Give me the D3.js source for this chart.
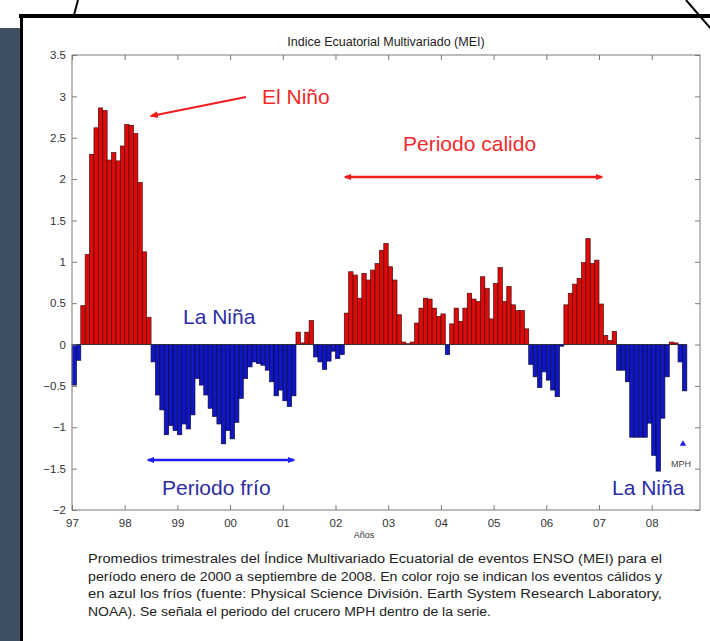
<!DOCTYPE html>
<html>
<head>
<meta charset="utf-8">
<script src="https://cdn.jsdelivr.net/npm/d3@7"></script>
<style>
  body { margin: 0; background: #fff; }
  svg { display: block; font-family: 'Liberation Sans', Arial, sans-serif; }
</style>
</head>
<body>
<svg id="chart"></svg>
<script>
// Monthly MEI values, Jan 1997 -> Aug 2008
const mei1997 = [-0.49, -0.19, 0.47, 1.09, 2.30, 2.62, 2.86, 2.83, 2.23, 2.32, 2.22, 2.40];
const mei1998 = [2.66, 2.65, 2.55, 1.96, 1.12, 0.33, -0.21, -0.61, -0.79, -1.09, -0.98, -1.04];
const mei1999 = [-1.09, -0.96, -1.02, -0.85, -0.41, -0.49, -0.61, -0.77, -0.87, -0.96, -1.20, -1.04];
const mei2000 = [-1.14, -0.94, -0.65, -0.41, -0.27, -0.21, -0.23, -0.25, -0.31, -0.45, -0.62, -0.55];
const mei2001 = [-0.68, -0.75, -0.62, 0.15, 0.02, 0.15, 0.29, -0.15, -0.21, -0.30, -0.20, -0.08];
const mei2002 = [-0.17, -0.12, 0.38, 0.88, 0.84, 0.56, 0.86, 0.78, 0.90, 0.98, 1.14, 1.22];
const mei2003 = [0.94, 0.78, 0.36, 0.03, 0.01, 0.03, 0.26, 0.44, 0.56, 0.55, 0.44, 0.34];
const mei2004 = [0.37, -0.12, 0.25, 0.44, 0.28, 0.44, 0.62, 0.55, 0.52, 0.82, 0.68, 0.31];
const mei2005 = [0.74, 0.93, 0.52, 0.70, 0.48, 0.41, 0.41, 0.19, -0.24, -0.39, -0.52, -0.33];
const mei2006 = [-0.43, -0.55, -0.63, -0.02, 0.48, 0.62, 0.73, 0.80, 0.99, 1.28, 0.98, 1.02];
const mei2007 = [0.49, 0.11, 0.05, 0.16, -0.31, -0.31, -0.45, -1.12, -1.12, -1.12, -1.12, -0.95];
const mei2008 = [-1.34, -1.53, -0.89, -0.39, 0.03, 0.02, -0.21, -0.56];

const yearTicks = [1997, 1998, 1999, 2000, 2001, 2002, 2003, 2004, 2005, 2006, 2007, 2008];
const yearLabels = ['97', '98', '99', '00', '01', '02', '03', '04', '05', '06', '07', '08'];
const yTicks = [-2, -1.5, -1, -0.5, 0, 0.5, 1, 1.5, 2, 2.5, 3, 3.5];

const caption = [
  'Promedios trimestrales del Índice Multivariado Ecuatorial de eventos ENSO (MEI) para el',
  'período enero de 2000 a septiembre de 2008.  En color rojo se indican los eventos cálidos y',
  'en azul los fríos (fuente: Physical Science División. Earth System Research Laboratory,',
  'NOAA). Se señala el periodo del crucero MPH dentro de la serie.'
];
const captionWidths = [574, 574, 574, 403];

const mei = [].concat(mei1997, mei1998, mei1999, mei2000, mei2001, mei2002,
  mei2003, mei2004, mei2005, mei2006, mei2007, mei2008)
  .map((v, i) => ({ t: 1997 + i / 12, v: v }));

// Setup
const width = 710,
      height = 641;

const svg = d3.select('#chart')
  .attr('width', width)
  .attr('height', height);

// page decoration (slide frame)
svg.append('rect').attr('x', 0).attr('y', 28).attr('width', 20).attr('height', height - 28)
  .attr('fill', '#3e4f62');
svg.append('line').attr('x1', 19).attr('y1', 16).attr('x2', width).attr('y2', 16)
  .attr('stroke', '#000').attr('stroke-width', 4);
svg.append('line').attr('x1', 21.5).attr('y1', 14).attr('x2', 21.5).attr('y2', height)
  .attr('stroke', '#000').attr('stroke-width', 3);
svg.append('line').attr('x1', 78).attr('y1', 0).attr('x2', 74).attr('y2', 15)
  .attr('stroke', '#000').attr('stroke-width', 2);
svg.append('line').attr('x1', 686).attr('y1', 0).attr('x2', 712).attr('y2', 30)
  .attr('stroke', '#000').attr('stroke-width', 2);

const m = { left: 72, right: 700, top: 55, bottom: 510 };

const x = d3.scaleLinear()
  .domain([1997, 2008 + 11 / 12])
  .range([m.left, m.right]);

const y = d3.scaleLinear()
  .domain([-2, 3.5])
  .range([m.bottom, m.top]);

const g = svg.append('g');

// Bars
g.selectAll('rect.bar')
  .data(mei)
  .enter().append('rect')
  .attr('class', 'bar')
  .attr('x', d => x(d.t))
  .attr('width', d => x(d.t + 1 / 12) - x(d.t))
  .attr('y', d => y(Math.max(0, d.v)))
  .attr('height', d => Math.abs(y(d.v) - y(0)))
  .attr('fill', d => d.v >= 0 ? '#dd0a0a' : '#1016c4')
  .attr('stroke', d => d.v >= 0 ? '#4a0e0e' : '#0a0a3a')
  .attr('stroke-width', 0.7);

// baseline
g.append('line')
  .attr('x1', x(1997)).attr('x2', x(mei[mei.length - 1].t + 1 / 12))
  .attr('y1', y(0)).attr('y2', y(0))
  .attr('stroke', '#333').attr('stroke-width', 0.8);

// Axes, matlab style (ticks inward on all four sides)
const axisColor = '#7a7a7a';
const styleAxis = sel => {
  sel.select('.domain').remove();
  sel.selectAll('line').attr('stroke', axisColor);
  sel.selectAll('text').attr('fill', '#333').style('font-size', '11.5px');
};

svg.append('g')
  .attr('transform', `translate(0,${m.bottom})`)
  .call(d3.axisBottom(x).tickValues(yearTicks).tickFormat((d, i) => yearLabels[i]).tickSizeInner(-5).tickPadding(9))
  .call(styleAxis);
svg.append('g')
  .attr('transform', `translate(0,${m.top})`)
  .call(d3.axisTop(x).tickValues(yearTicks).tickFormat('').tickSizeInner(-5))
  .call(styleAxis);
svg.append('g')
  .attr('transform', `translate(${m.left},0)`)
  .call(d3.axisLeft(y).tickValues(yTicks).tickFormat(d3.format('')).tickSizeInner(-5).tickPadding(6))
  .call(styleAxis);
svg.append('g')
  .attr('transform', `translate(${m.right},0)`)
  .call(d3.axisRight(y).tickValues(yTicks).tickFormat('').tickSizeInner(-5))
  .call(styleAxis);

svg.append('rect')
  .attr('x', m.left).attr('y', m.top)
  .attr('width', m.right - m.left).attr('height', m.bottom - m.top)
  .attr('fill', 'none').attr('stroke', axisColor).attr('stroke-width', 1);

// Title and axis label
svg.append('text')
  .attr('x', 386).attr('y', 46)
  .attr('text-anchor', 'middle')
  .style('font-size', '12.5px').attr('fill', '#222')
  .text('Indice Ecuatorial Multivariado (MEI)');

svg.append('text')
  .attr('x', 364).attr('y', 538)
  .attr('text-anchor', 'middle')
  .style('font-size', '9px').attr('fill', '#333')
  .text('Años');

// Annotations
const defs = svg.append('defs');
const marker = (id, color, w) => {
  defs.append('marker')
    .attr('id', id)
    .attr('viewBox', '0 0 10 10')
    .attr('refX', 8).attr('refY', 5)
    .attr('markerWidth', w).attr('markerHeight', w)
    .attr('orient', 'auto-start-reverse')
    .append('path')
    .attr('d', 'M0,1 L10,5 L0,9 Z')
    .attr('fill', color);
};
marker('arrRed', '#f21c1c', 4);
marker('arrBlue', '#1e1ef0', 3.2);
marker('arrRedS', '#f21c1c', 3.2);

svg.append('line')
  .attr('x1', 246).attr('y1', 97).attr('x2', 151).attr('y2', 116)
  .attr('stroke', '#f21c1c').attr('stroke-width', 2.2)
  .attr('marker-end', 'url(#arrRed)');

svg.append('line')
  .attr('x1', 345).attr('y1', 177).attr('x2', 602).attr('y2', 177)
  .attr('stroke', '#f21c1c').attr('stroke-width', 2.4)
  .attr('marker-start', 'url(#arrRedS)').attr('marker-end', 'url(#arrRedS)');

svg.append('line')
  .attr('x1', 148).attr('y1', 460).attr('x2', 294).attr('y2', 460)
  .attr('stroke', '#1e1ef0').attr('stroke-width', 2.4)
  .attr('marker-start', 'url(#arrBlue)').attr('marker-end', 'url(#arrBlue)');

const labels = [
  { text: 'El Niño', x: 262, y: 104, color: '#f22a2a' },
  { text: 'Periodo calido', x: 403, y: 151, color: '#f22a2a' },
  { text: 'La Niña', x: 183, y: 324, color: '#2c2ca6' },
  { text: 'Periodo frío', x: 162, y: 495, color: '#2c2ca6' },
  { text: 'La Niña', x: 612, y: 495, color: '#2c2ca6' }
];
svg.selectAll('text.note')
  .data(labels)
  .enter().append('text')
  .attr('class', 'note')
  .attr('x', d => d.x).attr('y', d => d.y)
  .attr('fill', d => d.color)
  .style('font-size', '21px')
  .text(d => d.text);

// MPH cruise marker
svg.append('path')
  .attr('d', d3.symbol().type(d3.symbolTriangle).size(18))
  .attr('transform', 'translate(683,444)')
  .attr('fill', '#1e1ef0');
svg.append('text')
  .attr('x', 681).attr('y', 467)
  .attr('text-anchor', 'middle')
  .style('font-size', '9px').attr('fill', '#444')
  .text('MPH');

// Caption
svg.append('g')
  .selectAll('text')
  .data(caption)
  .enter().append('text')
  .attr('x', 88)
  .attr('y', (d, i) => 563 + i * 17.6)
  .attr('fill', '#222')
  .style('font-family', "'Liberation Sans Narrow', 'Arial Narrow', 'Liberation Sans', sans-serif")
  .style('font-size', '12.5px')
  .attr('textLength', (d, i) => captionWidths[i])
  .attr('lengthAdjust', 'spacingAndGlyphs')
  .text(d => d);
</script>
</body>
</html>
